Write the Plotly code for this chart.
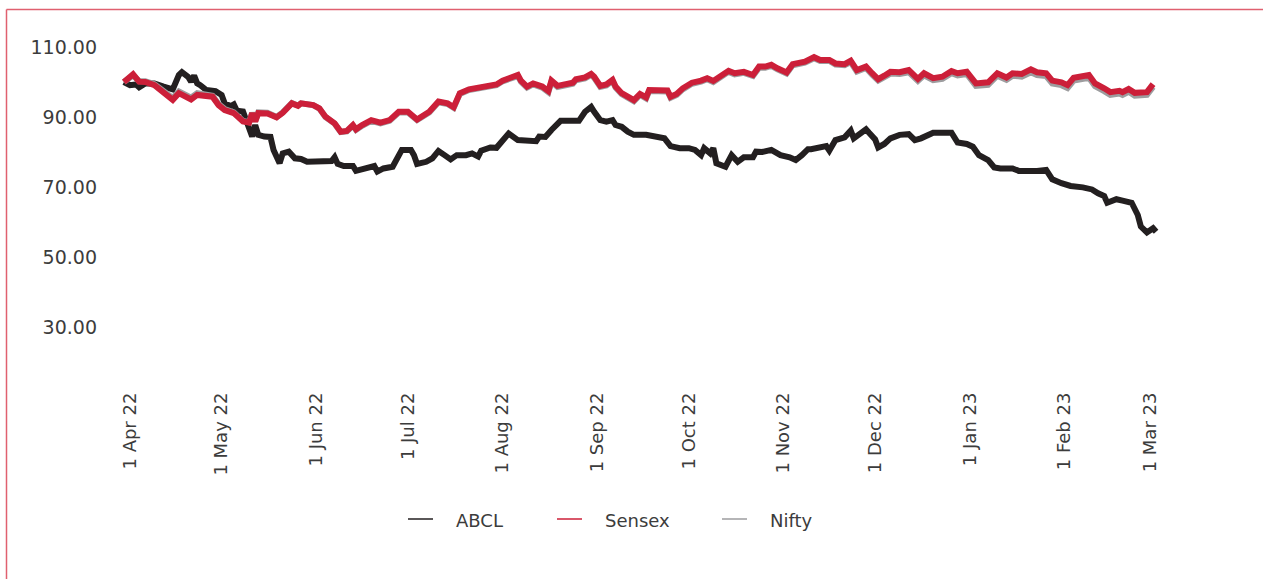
import plotly.graph_objects as go

# Rebased performance index (base = 100), FY 2022-23
abcl_dates = [
    "2022-03-30", "2022-04-01", "2022-04-03", "2022-04-04", "2022-04-06", "2022-04-09",
    "2022-04-12", "2022-04-15", "2022-04-17", "2022-04-18", "2022-04-20", "2022-04-21",
    "2022-04-22", "2022-04-23", "2022-04-24", "2022-04-26", "2022-04-29", "2022-05-01",
    "2022-05-02", "2022-05-04", "2022-05-05", "2022-05-06", "2022-05-08", "2022-05-09",
    "2022-05-10", "2022-05-11", "2022-05-12", "2022-05-13", "2022-05-15", "2022-05-17",
    "2022-05-18", "2022-05-20", "2022-05-21", "2022-05-23", "2022-05-25", "2022-05-27",
    "2022-05-29", "2022-06-01", "2022-06-04", "2022-06-06", "2022-06-07", "2022-06-08",
    "2022-06-10", "2022-06-13", "2022-06-14", "2022-06-15", "2022-06-17", "2022-06-19",
    "2022-06-20", "2022-06-21", "2022-06-23", "2022-06-26", "2022-06-28", "2022-06-29",
    "2022-07-02", "2022-07-03", "2022-07-04", "2022-07-07", "2022-07-09", "2022-07-11",
    "2022-07-13", "2022-07-15", "2022-07-17", "2022-07-20", "2022-07-22", "2022-07-24",
    "2022-07-25", "2022-07-28", "2022-07-30", "2022-08-01", "2022-08-03", "2022-08-06",
    "2022-08-09", "2022-08-12", "2022-08-13", "2022-08-15", "2022-08-17", "2022-08-20",
    "2022-08-23", "2022-08-26", "2022-08-28", "2022-08-30", "2022-08-31", "2022-09-02",
    "2022-09-04", "2022-09-06", "2022-09-07", "2022-09-09", "2022-09-11", "2022-09-13",
    "2022-09-17", "2022-09-20", "2022-09-23", "2022-09-25", "2022-09-28", "2022-10-01",
    "2022-10-03", "2022-10-05", "2022-10-06", "2022-10-08", "2022-10-09", "2022-10-10",
    "2022-10-12", "2022-10-13", "2022-10-15", "2022-10-17", "2022-10-19", "2022-10-22",
    "2022-10-23", "2022-10-25", "2022-10-28", "2022-10-31", "2022-11-03", "2022-11-05",
    "2022-11-07", "2022-11-09", "2022-11-10", "2022-11-12", "2022-11-15", "2022-11-16",
    "2022-11-18", "2022-11-21", "2022-11-22", "2022-11-23", "2022-11-24", "2022-11-27",
    "2022-11-28", "2022-11-29", "2022-12-01", "2022-12-02", "2022-12-04", "2022-12-06",
    "2022-12-09", "2022-12-12", "2022-12-14", "2022-12-16", "2022-12-18", "2022-12-20",
    "2022-12-23", "2022-12-26", "2022-12-28", "2022-12-31", "2023-01-02", "2023-01-04",
    "2023-01-07", "2023-01-09", "2023-01-11", "2023-01-15", "2023-01-17", "2023-01-20",
    "2023-01-23", "2023-01-26", "2023-01-28", "2023-01-31", "2023-02-03", "2023-02-07",
    "2023-02-10", "2023-02-12", "2023-02-14", "2023-02-15", "2023-02-18", "2023-02-20",
    "2023-02-23", "2023-02-25", "2023-02-26", "2023-02-28", "2023-03-02", "2023-03-03",
]
abcl = [
    100.0, 99.1, 99.3, 98.5, 99.6, 99.6,
    98.7, 97.9, 102.0, 102.8, 101.5, 100.1,
    101.8, 99.6, 99.1, 97.7, 97.4, 96.3,
    93.9, 93.1, 93.6, 91.8, 91.6, 89.1,
    87.2, 84.4, 87.7, 84.9, 84.4, 84.3,
    80.6, 76.8, 79.6, 80.1, 78.2, 78.0,
    77.2, 77.4, 77.2, 77.4, 78.5, 76.6,
    76.0, 76.0, 74.6, 74.9, 75.3, 75.8,
    76.0, 74.4, 75.3, 75.8, 79.6, 80.6,
    80.6, 79.1, 76.6, 77.2, 78.2, 80.3,
    79.1, 77.9, 79.1, 79.1, 79.6, 78.7,
    80.4, 81.3, 81.2, 83.6, 85.3, 83.4,
    83.1, 83.1, 84.4, 84.3, 86.3, 88.9,
    88.9, 88.9, 91.5, 92.9, 91.5, 89.1,
    88.7, 89.1, 87.7, 87.2, 85.8, 84.9,
    84.9, 84.2, 83.9, 81.7, 81.1, 81.1,
    80.6, 79.1, 81.1, 79.6, 81.1, 76.8,
    76.0, 75.8, 79.1, 77.2, 78.5, 78.5,
    80.1, 80.0, 80.6, 79.1, 78.5, 77.7,
    79.1, 80.8, 80.8, 81.3, 81.7, 80.4,
    83.4, 84.2, 84.9, 86.1, 83.9, 86.1,
    86.5, 85.5, 83.6, 81.3, 82.3, 83.9,
    84.9, 85.1, 83.4, 83.9, 84.9, 85.5,
    85.5, 85.5, 82.7, 82.3, 81.5, 79.1,
    77.7, 75.6, 75.3, 75.3, 74.6, 74.4,
    74.6, 74.9, 72.2, 71.1, 70.3, 69.9,
    69.3, 68.2, 67.4, 65.5, 66.5, 66.1,
    65.5, 62.0, 58.7, 57.0, 58.2, 57.2,
]

index_dates = [
    "2022-03-30", "2022-04-02", "2022-04-04", "2022-04-06", "2022-04-09", "2022-04-12",
    "2022-04-15", "2022-04-17", "2022-04-21", "2022-04-23", "2022-04-26", "2022-04-28",
    "2022-04-30", "2022-05-02", "2022-05-05", "2022-05-08", "2022-05-10", "2022-05-11",
    "2022-05-12", "2022-05-13", "2022-05-16", "2022-05-19", "2022-05-21", "2022-05-24",
    "2022-05-26", "2022-05-27", "2022-05-31", "2022-06-02", "2022-06-04", "2022-06-07",
    "2022-06-09", "2022-06-11", "2022-06-13", "2022-06-14", "2022-06-16", "2022-06-19",
    "2022-06-22", "2022-06-25", "2022-06-28", "2022-07-01", "2022-07-04", "2022-07-08",
    "2022-07-11", "2022-07-14", "2022-07-16", "2022-07-18", "2022-07-21", "2022-07-25",
    "2022-07-28", "2022-07-30", "2022-08-01", "2022-08-03", "2022-08-06", "2022-08-07",
    "2022-08-09", "2022-08-11", "2022-08-14", "2022-08-16", "2022-08-17", "2022-08-19",
    "2022-08-22", "2022-08-24", "2022-08-25", "2022-08-28", "2022-08-30", "2022-08-31",
    "2022-09-02", "2022-09-04", "2022-09-06", "2022-09-07", "2022-09-09", "2022-09-11",
    "2022-09-13", "2022-09-15", "2022-09-17", "2022-09-18", "2022-09-21", "2022-09-24",
    "2022-09-25", "2022-09-27", "2022-09-29", "2022-10-02", "2022-10-05", "2022-10-07",
    "2022-10-09", "2022-10-11", "2022-10-14", "2022-10-16", "2022-10-19", "2022-10-22",
    "2022-10-24", "2022-10-26", "2022-10-28", "2022-10-30", "2022-11-02", "2022-11-04",
    "2022-11-08", "2022-11-11", "2022-11-13", "2022-11-16", "2022-11-18", "2022-11-21",
    "2022-11-23", "2022-11-25", "2022-11-28", "2022-11-30", "2022-12-02", "2022-12-04",
    "2022-12-06", "2022-12-09", "2022-12-12", "2022-12-15", "2022-12-17", "2022-12-20",
    "2022-12-23", "2022-12-26", "2022-12-28", "2022-12-31", "2023-01-03", "2023-01-07",
    "2023-01-10", "2023-01-13", "2023-01-15", "2023-01-18", "2023-01-21", "2023-01-23",
    "2023-01-26", "2023-01-28", "2023-01-31", "2023-02-02", "2023-02-03", "2023-02-04",
    "2023-02-09", "2023-02-11", "2023-02-14", "2023-02-16", "2023-02-19", "2023-02-20",
    "2023-02-22", "2023-02-24", "2023-02-28", "2023-03-02",
]
sensex = [
    100.0, 102.2, 100.1, 100.0, 99.1, 97.2,
    94.9, 96.8, 95.0, 96.3, 95.8, 95.8,
    93.4, 92.0, 91.1, 88.7, 88.4, 91.1,
    88.7, 91.1, 91.0, 89.9, 91.2, 93.9,
    93.2, 93.9, 93.4, 92.5, 90.1, 88.2,
    85.8, 86.0, 87.7, 86.5, 87.7, 89.1,
    88.4, 89.1, 91.5, 91.5, 89.3, 91.5,
    94.4, 93.9, 92.8, 96.8, 97.9, 98.5,
    99.1, 99.3, 100.4, 100.9, 102.0, 100.4,
    98.7, 99.6, 98.7, 97.4, 100.4, 98.9,
    99.6, 99.8, 100.8, 101.3, 102.3, 101.5,
    98.9, 99.3, 100.6, 98.7, 96.8, 95.8,
    94.8, 96.6, 95.6, 97.7, 97.7, 97.6,
    95.8, 96.6, 98.2, 99.8, 100.4, 101.1,
    100.3, 101.3, 103.2, 102.5, 102.9, 102.0,
    104.4, 104.4, 104.9, 103.9, 102.7, 105.1,
    105.8, 107.1, 106.3, 106.3, 105.3, 105.1,
    106.1, 103.4, 104.4, 102.5, 100.8, 101.8,
    102.9, 102.8, 103.4, 100.9, 102.5, 101.1,
    101.5, 103.1, 102.5, 102.9, 99.6, 99.9,
    102.5, 101.3, 102.5, 102.3, 103.6, 102.8,
    102.5, 100.4, 99.9, 99.1, 100.1, 101.2,
    102.0, 99.6, 98.2, 97.1, 97.5, 97.1,
    98.0, 96.9, 97.1, 99.4,
]
nifty = [
    100.0, 101.9, 100.2, 100.2, 99.4, 97.6,
    95.4, 97.3, 95.5, 96.8, 96.2, 96.1,
    93.7, 92.3, 91.3, 88.9, 88.5, 91.2,
    88.8, 91.3, 91.2, 90.0, 91.3, 94.0,
    93.3, 93.9, 93.4, 92.4, 90.0, 88.1,
    85.7, 85.9, 87.5, 86.3, 87.5, 88.9,
    88.2, 88.9, 91.3, 91.3, 89.1, 91.3,
    94.2, 93.7, 92.6, 96.6, 97.7, 98.3,
    98.9, 99.1, 100.2, 100.7, 101.7, 100.1,
    98.4, 99.3, 98.4, 97.1, 100.1, 98.6,
    99.3, 99.5, 100.5, 101.0, 102.0, 101.2,
    98.6, 99.0, 100.3, 98.4, 96.5, 95.5,
    94.5, 96.3, 95.3, 97.4, 97.4, 97.3,
    95.5, 96.3, 97.9, 99.5, 100.1, 100.8,
    100.0, 101.0, 102.9, 102.2, 102.6, 101.7,
    104.1, 104.1, 104.6, 103.6, 102.4, 104.8,
    105.5, 106.8, 106.0, 106.0, 105.0, 104.8,
    105.7, 103.0, 104.0, 102.1, 100.4, 101.4,
    102.4, 102.3, 102.8, 100.3, 101.9, 100.5,
    100.9, 102.5, 101.9, 102.3, 98.9, 99.2,
    101.8, 100.6, 101.8, 101.5, 102.8, 102.0,
    101.7, 99.6, 99.1, 98.3, 99.3, 100.4,
    101.2, 98.8, 97.4, 96.3, 96.7, 96.3,
    97.2, 96.1, 96.3, 98.6,
]

month_ticks = [
    "2022-04-01", "2022-05-01", "2022-06-01", "2022-07-01", "2022-08-01", "2022-09-01",
    "2022-10-01", "2022-11-01", "2022-12-01", "2023-01-01", "2023-02-01", "2023-03-01",
]
month_labels = [
    "1 Apr 22", "1 May 22", "1 Jun 22", "1 Jul 22", "1 Aug 22", "1 Sep 22",
    "1 Oct 22", "1 Nov 22", "1 Dec 22", "1 Jan 23", "1 Feb 23", "1 Mar 23",
]
y_ticks = [30, 50, 70, 90, 110]
y_labels = ["30.00", "50.00", "70.00", "90.00", "110.00"]

series_names = ["ABCL", "Sensex", "Nifty"]
series_colors = {"ABCL": "#231f20", "Sensex": "#cc1f39", "Nifty": "#9d9d9f"}

FONT = "DejaVu Sans"
TEXT = "#3c3c3c"

# Plot-area geometry (px) used to place the legend and the frame in paper units
L, R, T, B = 110, 93, 12, 189
PW, PH = 1263 - L - R, 579 - T - B


def px_x(px):
    return (px - L) / PW


def px_y(py):
    return (T + PH - py) / PH


fig = go.Figure()

# Data lines (drawn thick; Nifty sits under Sensex)
fig.add_trace(go.Scatter(x=abcl_dates, y=abcl, mode="lines", name="ABCL", showlegend=False,
                         line=dict(color=series_colors["ABCL"], width=6)))
fig.add_trace(go.Scatter(x=index_dates, y=nifty, mode="lines", name="Nifty", showlegend=False,
                         line=dict(color=series_colors["Nifty"], width=6)))
fig.add_trace(go.Scatter(x=index_dates, y=sensex, mode="lines", name="Sensex", showlegend=False,
                         line=dict(color=series_colors["Sensex"], width=6)))

# Legend row below the axis: short thin sample line, then the series name
legend_starts = [408, 557, 722]
for name, x0 in zip(series_names, legend_starts):
    fig.add_shape(type="line", xref="paper", yref="paper",
                  x0=px_x(x0), x1=px_x(x0 + 25), y0=px_y(519), y1=px_y(519),
                  line=dict(color=series_colors[name], width=1.5))
    fig.add_annotation(text=name, xref="paper", yref="paper",
                       x=px_x(x0 + 46), y=px_y(520), xanchor="left", yanchor="middle",
                       showarrow=False, font=dict(size=18, family=FONT, color=TEXT))

# Thin frame along the top and left edges
frame = dict(color="#e0606f", width=1.5)
fig.add_shape(type="line", xref="paper", yref="paper",
              x0=px_x(6.5), x1=px_x(1300), y0=px_y(9.5), y1=px_y(9.5), line=frame)
fig.add_shape(type="line", xref="paper", yref="paper",
              x0=px_x(6.5), x1=px_x(6.5), y0=px_y(9.5), y1=px_y(620), line=frame)

fig.update_layout(
    width=1263, height=579,
    margin=dict(l=L, r=R, t=T, b=B),
    paper_bgcolor="white", plot_bgcolor="white",
    font=dict(family=FONT, color=TEXT),
    showlegend=False,
    xaxis=dict(
        type="date",
        range=["2022-03-25 10:48", "2023-03-07 13:12"],
        tickmode="array", tickvals=month_ticks, ticktext=month_labels,
        tickangle=-90, tickfont=dict(size=18, family=FONT, color=TEXT),
        showgrid=False, zeroline=False, showline=False, ticks="",
        ticklabelstandoff=-2,
    ),
    yaxis=dict(
        range=[12, 120],
        tickmode="array", tickvals=y_ticks, ticktext=y_labels,
        tickfont=dict(size=19, family=FONT, color=TEXT),
        showgrid=False, zeroline=False, showline=False, ticks="",
        ticklabelstandoff=12,
    ),
)

fig.write_html("out.html")
